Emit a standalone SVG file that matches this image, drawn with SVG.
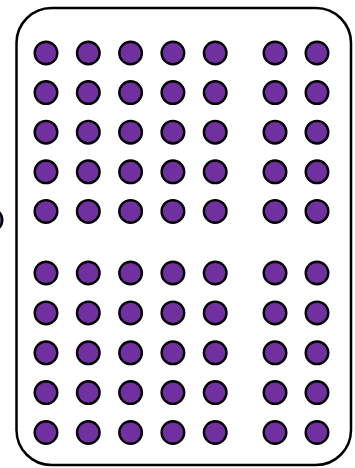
<svg xmlns="http://www.w3.org/2000/svg" width="355" height="468" viewBox="0 0 355 468">
<style>
.d{fill:#7030A0;stroke:#000;stroke-width:2.4}
.frame{fill:#fff;stroke:#000;stroke-width:2.5}
</style>
<defs><circle id="c" class="d" r="11.3"/></defs>
<rect width="355" height="468" fill="#fff"/>
<g id="outside"><use href="#c" x="-9" y="220"/></g>
<g id="frame"><rect class="frame" x="16.5" y="8" width="334.5" height="457" rx="35" ry="35"/></g>
<g id="dots">
<g id="row1" transform="translate(0,53)"><use href="#c" x="46"/><use href="#c" x="88.3"/><use href="#c" x="130.6"/><use href="#c" x="172.9"/><use href="#c" x="215.2"/><use href="#c" x="275"/><use href="#c" x="317"/></g>
<g id="row2" transform="translate(0,92.6)"><use href="#c" x="46"/><use href="#c" x="88.3"/><use href="#c" x="130.6"/><use href="#c" x="172.9"/><use href="#c" x="215.2"/><use href="#c" x="275"/><use href="#c" x="317"/></g>
<g id="row3" transform="translate(0,132.2)"><use href="#c" x="46"/><use href="#c" x="88.3"/><use href="#c" x="130.6"/><use href="#c" x="172.9"/><use href="#c" x="215.2"/><use href="#c" x="275"/><use href="#c" x="317"/></g>
<g id="row4" transform="translate(0,171.8)"><use href="#c" x="46"/><use href="#c" x="88.3"/><use href="#c" x="130.6"/><use href="#c" x="172.9"/><use href="#c" x="215.2"/><use href="#c" x="275"/><use href="#c" x="317"/></g>
<g id="row5" transform="translate(0,211.4)"><use href="#c" x="46"/><use href="#c" x="88.3"/><use href="#c" x="130.6"/><use href="#c" x="172.9"/><use href="#c" x="215.2"/><use href="#c" x="275"/><use href="#c" x="317"/></g>
<g id="row6" transform="translate(0,273)"><use href="#c" x="46"/><use href="#c" x="88.3"/><use href="#c" x="130.6"/><use href="#c" x="172.9"/><use href="#c" x="215.2"/><use href="#c" x="275"/><use href="#c" x="317"/></g>
<g id="row7" transform="translate(0,312.9)"><use href="#c" x="46"/><use href="#c" x="88.3"/><use href="#c" x="130.6"/><use href="#c" x="172.9"/><use href="#c" x="215.2"/><use href="#c" x="275"/><use href="#c" x="317"/></g>
<g id="row8" transform="translate(0,352.8)"><use href="#c" x="46"/><use href="#c" x="88.3"/><use href="#c" x="130.6"/><use href="#c" x="172.9"/><use href="#c" x="215.2"/><use href="#c" x="275"/><use href="#c" x="317"/></g>
<g id="row9" transform="translate(0,392.6)"><use href="#c" x="46"/><use href="#c" x="88.3"/><use href="#c" x="130.6"/><use href="#c" x="172.9"/><use href="#c" x="215.2"/><use href="#c" x="275"/><use href="#c" x="317"/></g>
<g id="row10" transform="translate(0,432.5)"><use href="#c" x="46"/><use href="#c" x="88.3"/><use href="#c" x="130.6"/><use href="#c" x="172.9"/><use href="#c" x="215.2"/><use href="#c" x="275"/><use href="#c" x="317"/></g>
</g>
</svg>
